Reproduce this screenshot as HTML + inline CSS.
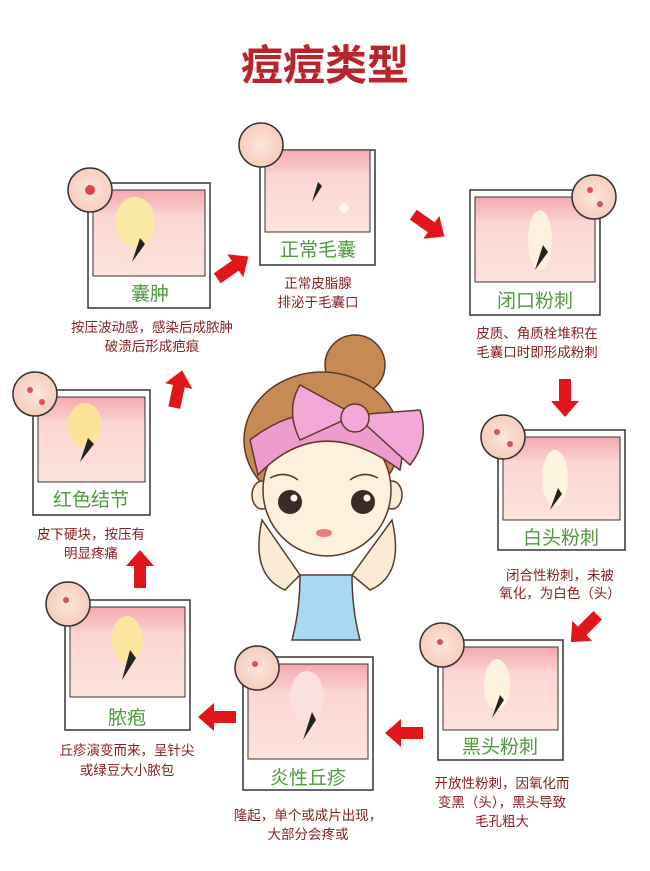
<!DOCTYPE html>
<html><head><meta charset="utf-8"><style>
html,body{margin:0;padding:0;background:#fff;}
svg text{font-family:"Liberation Sans","Noto Sans CJK SC",sans-serif;}
</style></head><body>
<svg width="650" height="866" viewBox="0 0 650 866" xmlns="http://www.w3.org/2000/svg">
<defs>
<linearGradient id="sk" x1="0" y1="0" x2="0" y2="1"><stop offset="0" stop-color="#f4aab0"/><stop offset="0.22" stop-color="#f8c6c8"/><stop offset="0.3" stop-color="#fbd6d4"/><stop offset="1" stop-color="#fde3dc"/></linearGradient>
<radialGradient id="cir" cx="0.5" cy="0.5" r="0.5"><stop offset="0" stop-color="#fde6dc"/><stop offset="1" stop-color="#f6cdbd"/></radialGradient>
<g id="arrow"><path d="M-18,-6 L4,-6 L4,-14 L20,0 L4,14 L4,6 L-18,6 Z" fill="#e0161b"/></g>
</defs>
<rect width="650" height="866" fill="#fff"/>
<text x="325" y="80" font-size="42" fill="#b8252b" text-anchor="middle" font-family="'Noto Serif CJK SC',serif" font-weight="bold">痘痘类型</text>

<g stroke="#333" stroke-width="1.5" fill="#fff">
<rect x="88" y="183" width="122" height="125"/>
<rect x="260" y="150" width="115" height="115"/>
<rect x="470" y="190" width="130" height="125"/>
<rect x="498" y="430" width="127" height="120"/>
<rect x="438" y="640" width="125" height="120"/>
<rect x="243" y="657" width="130" height="133"/>
<rect x="65" y="600" width="125" height="130"/>
<rect x="33" y="390" width="117" height="125"/>
</g>
<g fill="url(#sk)" stroke="#333" stroke-width="1">
<rect x="93" y="190" width="112" height="86"/>
<rect x="265" y="150" width="105" height="82"/>
<rect x="475" y="197" width="120" height="85"/>
<rect x="503" y="437" width="117" height="83"/>
<rect x="443" y="647" width="115" height="83"/>
<rect x="248" y="664" width="120" height="95"/>
<rect x="70" y="607" width="115" height="90"/>
<rect x="38" y="397" width="107" height="85"/>
</g>
<g>
<ellipse cx="135" cy="222" rx="20" ry="25" fill="#fbeaa6"/><path d="M140,238 L132,262 L145,244Z" fill="#222"/>
<path d="M318,182 L312,202 L322,186Z" fill="#222"/><circle cx="344" cy="208" r="5" fill="#fff8e8"/>
<ellipse cx="540" cy="240" rx="12" ry="30" fill="#fdf0dc"/><path d="M543,245 L535,270 L548,252Z" fill="#222"/>
<ellipse cx="555" cy="478" rx="13" ry="28" fill="#fdf4e0"/><path d="M558,488 L550,510 L562,494Z" fill="#222"/>
<ellipse cx="497" cy="685" rx="13" ry="26" fill="#fdf4e0"/><path d="M500,695 L492,718 L504,700Z" fill="#222"/>
<ellipse cx="307" cy="697" rx="17" ry="26" fill="#fbe0e0"/><path d="M312,712 L303,740 L316,720Z" fill="#222"/>
<ellipse cx="127" cy="640" rx="16" ry="24" fill="#fde6a0"/><path d="M130,650 L122,680 L136,658Z" fill="#222"/>
<ellipse cx="85" cy="425" rx="17" ry="22" fill="#fde29a"/><path d="M88,438 L80,462 L94,444Z" fill="#222"/>
</g>
<g font-size="19" fill="#4f9a3e" text-anchor="middle">
<text x="150" y="300">囊肿</text>
<text x="318" y="256">正常毛囊</text>
<text x="535" y="307">闭口粉刺</text>
<text x="561" y="544">白头粉刺</text>
<text x="500" y="753">黑头粉刺</text>
<text x="308" y="784">炎性丘疹</text>
<text x="127" y="724">脓疱</text>
<text x="91" y="506">红色结节</text>
</g>
<g stroke="#333" stroke-width="1.5" fill="url(#cir)">
<circle cx="90" cy="190" r="22"/><circle cx="261" cy="145" r="22"/><circle cx="594" cy="197" r="22"/>
<circle cx="503" cy="437" r="22"/><circle cx="442" cy="645" r="22"/><circle cx="257" cy="668" r="22"/>
<circle cx="68" cy="604" r="22"/><circle cx="35" cy="394" r="22"/>
</g>
<circle cx="90" cy="190" r="5" fill="#e8404a"/>
<g fill="#d9505a"><circle cx="590" cy="190" r="3"/><circle cx="600" cy="204" r="3"/><circle cx="497" cy="432" r="3"/><circle cx="510" cy="444" r="3"/><circle cx="440" cy="642" r="3"/><circle cx="255" cy="664" r="3"/><circle cx="66" cy="600" r="3"/><circle cx="30" cy="390" r="3"/><circle cx="42" cy="402" r="3"/></g>
<g font-size="13.5" fill="#8a1f22" text-anchor="middle">
<text x="152" y="332">按压波动感，感染后成脓肿</text><text x="152" y="351">破溃后形成疤痕</text>
<text x="318" y="288">正常皮脂腺</text><text x="318" y="307">排泌于毛囊口</text>
<text x="537" y="338">皮质、角质栓堆积在</text><text x="537" y="357">毛囊口时即形成粉刺</text>
<text x="560" y="580">闭合性粉刺，未被</text><text x="560" y="598">氧化，为白色（头）</text>
<text x="502" y="788">开放性粉刺，因氧化而</text><text x="502" y="807">变黑（头），黑头导致</text><text x="502" y="826">毛孔粗大</text>
<text x="308" y="820">隆起，单个或成片出现，</text><text x="308" y="839">大部分会疼或</text>
<text x="127" y="755">丘疹演变而来，呈针尖</text><text x="127" y="775">或绿豆大小脓包</text>
<text x="91" y="539">皮下硬块，按压有</text><text x="91" y="558">明显疼痛</text>
</g>
<use href="#arrow" transform="translate(232,268) rotate(-35)"/>
<use href="#arrow" transform="translate(428,225) rotate(35)"/>
<use href="#arrow" transform="translate(565,397) rotate(90)"/>
<use href="#arrow" transform="translate(585,628) rotate(135)"/>
<use href="#arrow" transform="translate(405,733) rotate(180)"/>
<use href="#arrow" transform="translate(218,717) rotate(180)"/>
<use href="#arrow" transform="translate(140,570) rotate(-90)"/>
<use href="#arrow" transform="translate(178,390) rotate(-78)"/>
<g stroke="#5a3a2a" stroke-width="1.5">
<circle cx="355" cy="365" r="30" fill="#c88a55"/>
<ellipse cx="322" cy="440" rx="78" ry="68" fill="#c88a55"/>
<path d="M300,575 Q300,610 292,640 L360,640 Q352,610 352,575 Z" fill="#a9d9f2"/>
<path d="M262,520 Q250,575 285,590 L300,575 Z M392,520 Q405,575 370,590 L352,575 Z" fill="#fcecd6"/>
<ellipse cx="262" cy="495" rx="10" ry="14" fill="#fcecd6"/><ellipse cx="392" cy="495" rx="10" ry="14" fill="#fcecd6"/>
<ellipse cx="327" cy="490" rx="64" ry="66" fill="#fdf0dc"/>
<path d="M250,440 Q320,385 405,440 L400,470 Q320,410 258,475 Z" fill="#ee9ccd"/>
<path d="M355,415 L300,385 Q285,410 300,440 Z M355,415 L420,410 Q430,440 410,465 Z" fill="#f4a8d8"/>
<circle cx="355" cy="418" r="14" fill="#f4a8d8"/>
</g>
<circle cx="290" cy="502" r="12" fill="#3c2a25"/><circle cx="363" cy="502" r="12" fill="#3c2a25"/>
<circle cx="294" cy="498" r="3.5" fill="#fff"/><circle cx="367" cy="498" r="3.5" fill="#fff"/>
<ellipse cx="324" cy="533" rx="8" ry="4" fill="#f07a7a"/>
<path d="M270,478 Q285,470 298,480 M350,480 Q363,470 378,478" stroke="#5a3a2a" stroke-width="1.5" fill="none"/>
</svg>
</body></html>
